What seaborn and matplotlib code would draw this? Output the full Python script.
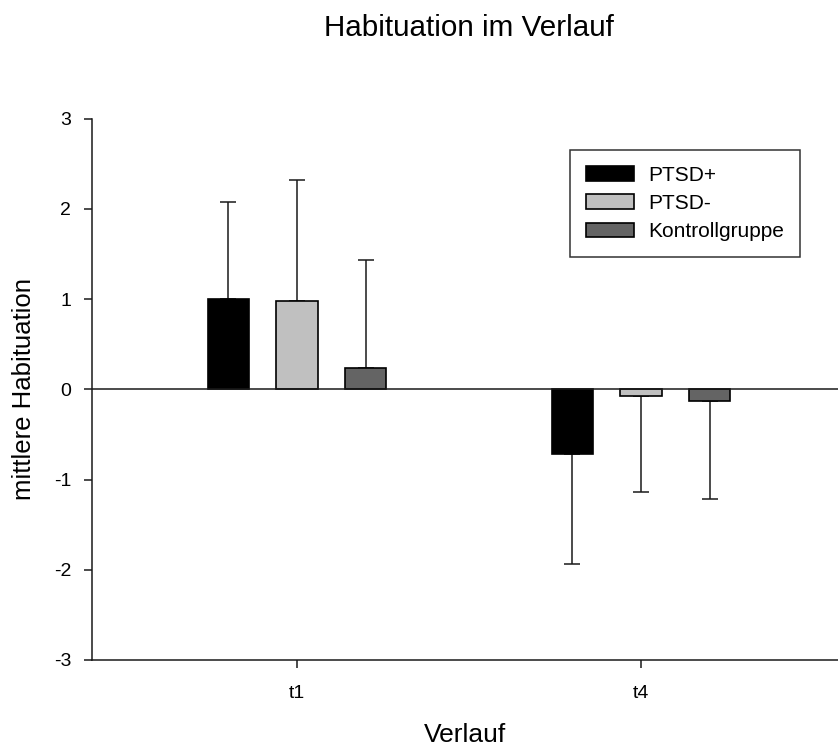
import numpy as np
import pandas as pd
import matplotlib
matplotlib.use("Agg")
import matplotlib.pyplot as plt
import seaborn as sns

# ─────────────────────────────────────────────
# DATEN
# ─────────────────────────────────────────────
zeitpunkte = ["t1", "t4"]
gruppen = ["PTSD+", "PTSD-", "Kontrollgruppe"]

mw_ptsd_pos = [1.00, -0.72]
mw_ptsd_neg = [0.98, -0.07]
mw_kontrolle = [0.23, -0.13]

sd_ptsd_pos = [1.08, 1.22]
sd_ptsd_neg = [1.34, 1.07]
sd_kontrolle = [1.20, 1.09]

y_ticks = [-3, -2, -1, 0, 1, 2, 3]
farben = ["#000000", "#c0c0c0", "#646464"]

mittelwerte = [mw_ptsd_pos, mw_ptsd_neg, mw_kontrolle]
streuungen = [sd_ptsd_pos, sd_ptsd_neg, sd_kontrolle]

rows = []
for g, mw in zip(gruppen, mittelwerte):
    for t, v in zip(zeitpunkte, mw):
        rows.append({"Verlauf": t, "Gruppe": g, "Habituation": v})
df = pd.DataFrame(rows)

# ─────────────────────────────────────────────
# PLOT
# ─────────────────────────────────────────────
sns.set_style("ticks")
plt.rcParams["font.family"] = ["Liberation Sans", "DejaVu Sans"]
plt.rcParams["text.color"] = "black"
plt.rcParams["axes.labelcolor"] = "black"
plt.rcParams["xtick.color"] = "black"
plt.rcParams["ytick.color"] = "black"

fig = plt.figure(figsize=(8.38, 7.49), dpi=100)
ax = fig.add_axes([92 / 838, 1 - 660 / 749, 1 - 92 / 838, (660 - 118.5) / 749])

sns.barplot(
    data=df, x="Verlauf", y="Habituation", hue="Gruppe",
    order=zeitpunkte, hue_order=gruppen, palette=farben,
    width=0.6, gap=0.4, edgecolor="black", linewidth=1.2,
    errorbar=None, ax=ax, zorder=2,
)

# einseitige Fehlerbalken (vom Nullpunkt weg), Kappe am Balken liegt verdeckt
for cont, sd in zip(ax.containers, streuungen):
    for bar, s in zip(cont.patches, sd):
        h = bar.get_height()
        x = bar.get_x() + bar.get_width() / 2
        lo, up = (0, s) if h >= 0 else (s, 0)
        ax.errorbar(x, h, yerr=[[lo], [up]], fmt="none", ecolor="#1a1a1a",
                    elinewidth=1.1, capsize=6, capthick=1.1, zorder=1)

ax.axhline(0, color="#1a1a1a", lw=1.1, zorder=3)

ax.set_ylim(-3, 3)
ax.set_xlim(-0.596, 1.573)
ax.set_yticks(y_ticks)
ax.set_yticklabels([str(t) for t in y_ticks])
ax.tick_params(axis="both", labelsize=14, length=6, width=1.1, color="#1a1a1a")
ax.tick_params(axis="y", pad=9)
ax.tick_params(axis="x", pad=12)

ax.spines[["top", "right"]].set_visible(False)
for sp in ["left", "bottom"]:
    ax.spines[sp].set_linewidth(1.1)
    ax.spines[sp].set_color("#1a1a1a")

ax.set_xlabel("Verlauf", fontsize=19, labelpad=15)
ax.set_ylabel("mittlere Habituation", fontsize=18.5, labelpad=13)

fig.text(469 / 838, 1 - 36 / 749, "Habituation im Verlauf", fontsize=21.3,
         ha="center", va="baseline")

leg = ax.legend(
    loc="upper right", bbox_to_anchor=(0.949, 0.942), borderaxespad=0,
    fontsize=15, frameon=True, fancybox=False, edgecolor="black",
    handlelength=2.35, handleheight=0.7, handletextpad=0.67,
    labelspacing=0.45, borderpad=0.75, title=None,
)
leg.get_frame().set_linewidth(1.1)

fig.savefig("out.png", dpi=100)
plt.close(fig)
